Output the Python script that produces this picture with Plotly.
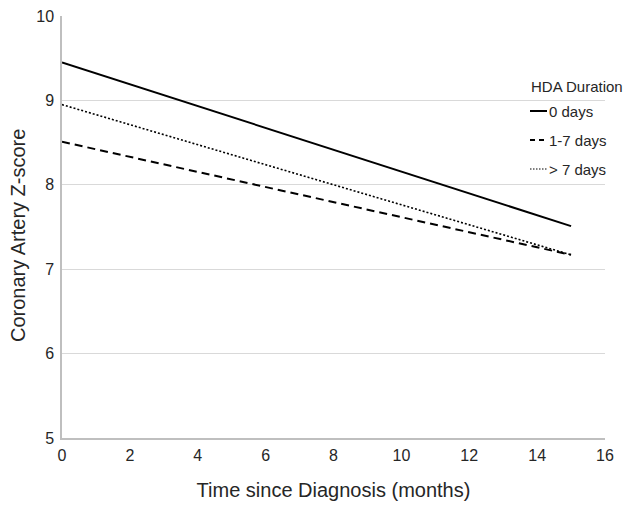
import plotly.graph_objects as go

months = [0, 15]
series_names = ["0 days", "1-7 days", "> 7 days"]
zero_days = [9.45, 7.51]
one_to_seven_days = [8.51, 7.17]
over_seven_days = [8.95, 7.17]
legend_title = "HDA Duration"
x_title = "Time since Diagnosis (months)"
y_title = "Coronary Artery Z-score"

x_ticks = [0, 2, 4, 6, 8, 10, 12, 14, 16]
y_ticks = [5, 6, 7, 8, 9, 10]

W, H = 632, 508
L, R, T, B = 62, 27, 16, 70
pw, ph = W - L - R, H - T - B

def px_x(p):
    return (p - L) / pw

def px_y(p):
    return (H - B - p) / ph

fig = go.Figure()
styles = [("solid", 2), ("8px,5px", 2), ("2px,2px", 1.6)]
key_styles = [("solid", 2), ("5px,4px", 1.8), ("1.5px,1.5px", 1.2)]
series = [zero_days, one_to_seven_days, over_seven_days]
for name, vals, (dash, w) in zip(series_names, series, styles):
    fig.add_trace(go.Scatter(x=months, y=vals, mode="lines", name=name,
                             line=dict(color="black", dash=dash, width=w),
                             showlegend=False, hoverinfo="skip"))

font = "Liberation Sans, Arial, sans-serif"
txt = "#262626"

# Manual legend (to match the short key lines of the reference)
fig.add_annotation(text=legend_title, xref="paper", yref="paper",
                   x=px_x(529), y=px_y(86), xanchor="left", yanchor="middle",
                   showarrow=False, font=dict(size=15, family=font, color=txt))
for i, ((dash, w), name) in enumerate(zip(key_styles, series_names)):
    yy = 111 + 29 * i
    fig.add_shape(type="line", xref="paper", yref="paper",
                  x0=px_x(530), x1=px_x(547), y0=px_y(yy), y1=px_y(yy),
                  line=dict(color="black", dash=dash, width=w))
    fig.add_annotation(text=name, xref="paper", yref="paper",
                       x=px_x(547), y=px_y(yy), xanchor="left", yanchor="middle",
                       showarrow=False, font=dict(size=15, family=font, color=txt))

# Y axis title as annotation (positioned like the reference)
fig.add_annotation(text=y_title, xref="paper", yref="paper",
                   x=px_x(18), y=px_y(236), xanchor="center", yanchor="middle",
                   textangle=-90, showarrow=False,
                   font=dict(size=20, family=font, color=txt))

fig.update_layout(
    width=W, height=H,
    margin=dict(l=L, r=R, t=T, b=B),
    plot_bgcolor="white", paper_bgcolor="white",
    font=dict(family=font, color=txt, size=16),
    showlegend=False,
    xaxis=dict(range=[0, 16], tickvals=x_ticks, showgrid=False,
               showline=True, linecolor="#bfbfbf", linewidth=1.5,
               ticks="", zeroline=False, automargin=False,
               ticklabelstandoff=2,
               title=dict(text=x_title, font=dict(size=20), standoff=20),
               tickfont=dict(size=16)),
    yaxis=dict(range=[5, 10], tickvals=y_ticks, showgrid=True, gridcolor="#d9d9d9",
               gridwidth=1, showline=True, linecolor="#bfbfbf", linewidth=1.5,
               ticks="", zeroline=False, automargin=False,
               ticklabelstandoff=3,
               tickfont=dict(size=16)),
)

fig.write_html("out.html", config={"displayModeBar": False},
               post_script="document.body.style.margin='0px';document.body.style.overflow='hidden';")
